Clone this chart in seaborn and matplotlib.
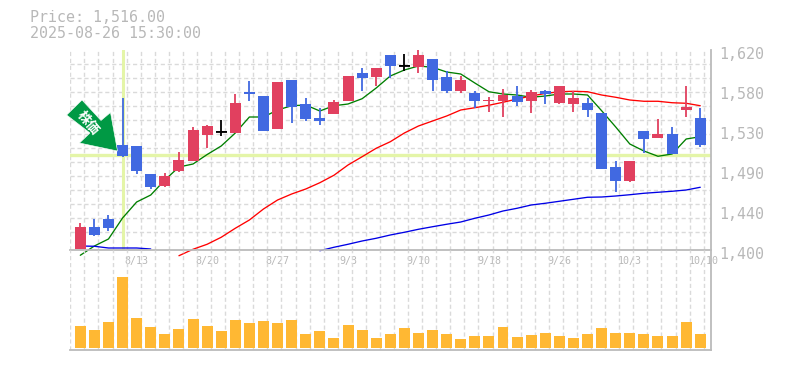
import numpy as np
import pandas as pd
import matplotlib
matplotlib.use("Agg")
import matplotlib.pyplot as plt
from matplotlib.patches import Polygon
from matplotlib.transforms import ScaledTranslation, Affine2D
import seaborn as sns

sns.set_theme(style="white")
plt.rcParams['font.family'] = ['DejaVu Sans Mono', 'Noto Sans CJK JP']

W, H = 785, 370
body_top = [1425.3,1425.3,1434.1,1515.5,1514.4,1483.6,1481.4,1499,1532,1536.4,1529.8,1561.7,1573.8,1569.4,1584.8,1587,1560.6,1545.2,1562.8,1591.4,1594.7,1600.2,1614.5,1602.4,1614.5,1610.1,1590.3,1587,1572.7,1565,1570.5,1569.4,1573.8,1574.9,1580.4,1567.2,1561.7,1550.7,1491.3,1497.9,1530.9,1527.6,1527.6,1557.3,1545.2]
body_bot = [1401.1,1416.5,1424.2,1503.4,1486.9,1469.3,1470.4,1486.9,1497.9,1526.5,1529.8,1528.7,1571.6,1531.2,1533.1,1557.6,1544.1,1541.9,1549.6,1563.9,1589.2,1590.3,1602.4,1602.4,1601.3,1587,1574.9,1574.9,1563.9,1563.9,1563.9,1562.8,1563.9,1571.3,1561.7,1560.6,1554,1489.1,1475.9,1475.9,1522.1,1523.2,1505.6,1554,1515.5]
wick_hi = [1429.4,1434.1,1438.5,1567.5,1514.4,1483.6,1484.7,1507.8,1535.3,1537.5,1543,1571.6,1585.9,1569.4,1584.8,1587,1567.2,1556.2,1565,1591.4,1600.2,1600.2,1614.5,1615.6,1620,1610.1,1596.9,1591.4,1574.9,1568.3,1577.1,1580.4,1576,1576,1580.4,1574.9,1567.2,1550.7,1497.9,1497.9,1530.9,1544.1,1535.3,1580.4,1556.2]
wick_lo = [1401.1,1415.4,1421.2,1502.6,1483.6,1467.1,1469.3,1485.8,1497.9,1512.2,1525.4,1528.7,1563.9,1531.2,1533.1,1540,1542.2,1537.8,1549.6,1563.9,1574.9,1580.4,1588.9,1597.2,1594.7,1574.9,1573,1572.7,1556.2,1551.8,1546.3,1558.4,1550.7,1560.6,1560.6,1551.8,1546.3,1489.1,1463.8,1474.8,1506.7,1523.2,1505.6,1546.3,1513.3]
candle_kind = list("rbbbbbrrrrkrbbrbbbrrbrbkrbbrbrrbrbrrbbbrbrbrb")
ma_short = [1394.2,1404.4,1412.1,1435.2,1452.8,1460.5,1477,1491.3,1494.6,1505,1514.4,1528.7,1546.3,1546.3,1554,1558.7,1559.5,1552.9,1558.7,1560.6,1566.4,1578.2,1591.4,1598,1602.4,1601,1595.8,1593.6,1583.7,1574.1,1571.6,1570.5,1568,1569.4,1571.6,1571.6,1570.5,1553.2,1535.3,1516.6,1508.9,1503.1,1505.6,1522.1,1524.6]
ma_mid = [1393.7,1400.8,1406.3,1414,1423.9,1433,1445.1,1455,1461.6,1467.1,1474,1482.2,1493.5,1502.6,1511.9,1519.1,1528.7,1536.4,1541.9,1547.4,1554,1556.5,1559.2,1562.5,1566.1,1569.4,1572.2,1574.1,1574.6,1574.1,1570.5,1568,1565,1563.6,1563.6,1562,1561.4,1558.7]
ma_long_early = [1404.4,1404.1,1402.2,1402.2,1402.2,1401.1]
ma_long_late = [1399.2,1403,1406.3,1409.9,1412.9,1416.5,1419.5,1422.8,1425.6,1428.3,1430.8,1434.9,1438.5,1442.9,1445.9,1449.5,1451.4,1453.6,1455.8,1458,1458.3,1459.4,1460.8,1462.4,1463.5,1464.6,1466,1469]
volume = [22,18,26,71,30,21,14,19,29,22,17,28,25,27,25,28,14,17,10,23,18,10,14,20,15,18,14,9,12,12,21,11,13,15,12,10,14,20,15,15,14,12,12,26,14]
tick_idx = [4,9,14,19,24,29,34,39,44]
tick_dates = ["8/13","8/20","8/27","9/3","9/10","9/18","9/26","10/3","10/10"]
price_ticks = [1620,1576,1532,1488,1444,1400]
price_labels = ["1,620","1,580","1,530","1,490","1,440","1,400"]
cross_idx = 3
cross_price = 1504.5

BLUE, RED, BLACK = "#4169E1", "#E1405F", "#000000"
GRAY, GRID, CROSS = "#B8B8B8", "#DADADA", "#E4F5A8"
AMBER = "#FFB833"
colors = {"r": RED, "b": BLUE, "k": BLACK}

L, R = 70.3, 710.5
fig = plt.figure(figsize=(W/100, H/100), dpi=100)
ax = fig.add_axes([L/W, 1-250/H, (R-L)/W, 200/H])
vx = fig.add_axes([L/W, 1-350/H, (R-L)/W, 100/H], sharex=ax)

n = len(volume)
idx = np.arange(n)
xlim = ((L-80.3)/14.09, (R-80.3)/14.09)

grid_x = np.linspace(xlim[0], xlim[0]+45*14.075/14.09, 46)
grid_y = [1620-15.4*k for k in range(14)]
for a in (ax, vx):
    a.set_facecolor("none")
    a.set_xticks(grid_x, minor=True)
    a.grid(False)
    a.grid(True, which="minor", axis="x", color=GRID, lw=1, ls=(0, (3, 2)), zorder=0)
    a.tick_params(which="both", length=0)
    a.set_axisbelow(True)
    for s in a.spines.values():
        s.set_visible(False)
    for s in ("bottom", "right"):
        a.spines[s].set_visible(True)
        a.spines[s].set_color("#BBBBBB")
        a.spines[s].set_linewidth(1.3)
ax.set_yticks(grid_y, minor=True)
ax.grid(True, which="minor", axis="y", color=GRID, lw=1, ls=(0, (3, 2)), zorder=0)

# crosshair
ax.axvline(cross_idx, color=CROSS, lw=2.2, zorder=1)
ax.axhline(cross_price, color=CROSS, lw=2.4, zorder=1)

# moving averages
def ma(xs, ys, color):
    sns.lineplot(x=xs, y=ys, ax=ax, color=color, lw=0.95, estimator=None, sort=False,
                 legend=False, clip_on=False, zorder=2)
ma(idx, ma_short, "#007F00")
ma(idx[7:], ma_mid, "#FF0000")
ma(idx[:6], ma_long_early, "#0000E6")
ma(idx[17:], ma_long_late, "#0000E6")

# candles
kinds = [colors[k] for k in candle_kind]
ax.vlines(idx, wick_lo, wick_hi, colors=kinds, lw=1.3, zorder=3)
heights = np.array(body_top) - np.array(body_bot)
ax.bar(idx, np.maximum(heights, 0.9), bottom=body_bot, width=0.78, color=kinds, lw=0, zorder=4)
for i in idx:
    if candle_kind[i] == "k":
        ax.hlines(body_top[i], i-0.39, i+0.39, color=BLACK, lw=1.3, zorder=4)

ax.set_xlim(*xlim)
ax.set_ylim(1400, 1620)
ax.set_xticks(tick_idx, tick_dates)
ax.set_yticks(price_ticks, price_labels)
ax.yaxis.tick_right()
ax.tick_params(axis="x", which="major", labelsize=7.2, labelcolor=GRAY, pad=4, labelbottom=True)
ax.tick_params(axis="y", which="major", labelsize=10.8, labelcolor=GRAY, pad=6.2)
shift = ScaledTranslation(0, -3/100, fig.dpi_scale_trans)
for lab in ax.get_yticklabels():
    lab.set_transform(lab.get_transform() + shift)
lab = ax.get_xticklabels()[-1]
lab.set_transform(lab.get_transform() + ScaledTranslation(4/100, 0, fig.dpi_scale_trans))

# volume
vol = pd.DataFrame({"i": idx, "v": volume})
sns.barplot(data=vol, x="i", y="v", ax=vx, native_scale=True, color=AMBER, saturation=1,
            width=0.78, linewidth=0, errorbar=None, zorder=3)
vx.set_xlim(*xlim)
vx.set_ylim(-2, 98)
vx.set_xlabel(""); vx.set_ylabel("")
vx.tick_params(labelleft=False, labelbottom=False, left=False, bottom=False)
ax.set_xlabel(""); ax.set_ylabel("")

# title text
fig.text(30/W, 1-18/H, "Price: 1,516.00", color=GRAY, fontsize=10.8, va="center", ha="left")
fig.text(30/W, 1-33/H, "2025-08-26 15:30:00", color=GRAY, fontsize=10.8, va="center", ha="left")

# signal arrow (pixel placement)
px = Affine2D().scale(1, -1).translate(0, H)
arrow = [(66.7,115),(82,100),(101,120.5),(110.5,112.5),(117.5,151),(79.5,143),(90,133)]
fig.patches.append(Polygon(arrow, closed=True, transform=px, facecolor="#009944",
                           edgecolor="white", lw=0.4, zorder=6, figure=fig))
fig.text(88/W, 1-123/H, "株価", family=['Noto Sans CJK JP', 'DejaVu Sans'], color="white", fontsize=9.5,
         fontweight="bold", rotation=-50, rotation_mode="anchor", ha="center", va="center", zorder=7)

fig.savefig("out.png", dpi=100, facecolor="white")
